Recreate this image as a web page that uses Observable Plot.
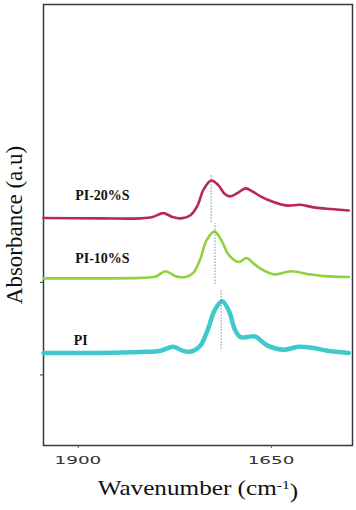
<!DOCTYPE html>
<html><head><meta charset="utf-8">
<script src="https://cdn.jsdelivr.net/npm/d3@7"></script>
<script src="https://cdn.jsdelivr.net/npm/@observablehq/plot@0.6"></script>
<style>html,body{margin:0;padding:0;background:#fff}#chart svg{display:block}</style>
</head><body><div id="chart"></div>
<script>
// ---- data (wavenumber cm-1, absorbance a.u. with vertical offsets) ----
const wnPI20  = [1945,1871.2,1819.4,1803.9,1790.1,1778,1767.7,1754.7,1745.6,1737.9,1727.9,1718.5,1710.7,1703.8,1695.2,1683.5,1674.4,1664.1,1647.3,1629.5,1612.3,1595.5,1577.7,1549.8];
const absPI20 = [5.16,5.15,5.15,5.18,5.27,5.18,5.15,5.22,5.44,5.80,6.01,5.90,5.71,5.65,5.71,5.83,5.76,5.65,5.52,5.44,5.46,5.40,5.37,5.33];

const wnPI10  = [1945,1871.2,1819.4,1800,1787.1,1774.1,1761.2,1750.8,1741.8,1734,1723.6,1714.6,1705.5,1692.2,1682.2,1673.2,1664.1,1646.9,1625.3,1603.6,1582.2,1549.8];
const absPI10 = [3.79,3.79,3.80,3.83,3.95,3.84,3.82,3.92,4.24,4.65,4.85,4.65,4.33,4.16,4.25,4.13,4.01,3.88,3.95,3.89,3.84,3.82];

const wnPI    = [1945,1871.2,1819.4,1793.5,1777.1,1765.1,1754.7,1741.8,1732.7,1723.6,1713.7,1704.2,1697.8,1690,1680.9,1670.6,1655.4,1633.9,1614.9,1595.1,1577.7,1549.8];
const absPI   = [2.10,2.10,2.12,2.15,2.24,2.15,2.13,2.27,2.61,3.06,3.27,3.02,2.65,2.46,2.46,2.47,2.27,2.17,2.24,2.21,2.15,2.10];

const labelNames = ["PI-20%S","PI-10%S","PI"];
const labelWn    = [1904,1904,1906];
const labelAbs   = [5.67,4.24,2.38];

const peakWn     = [1728,1723,1715];
const peakTop    = [6.15,5.03,3.51];
const peakBottom = [5.06,3.65,2.18];

const xTicks = [1900,1650];
const yTicks = [1.6,3.7];
const xTitle = "Wavenumber (cm-1)";
const yTitle = "Absorbance (a.u)";

// ---- build tables ----
const rows = (wn, ab) => wn.map((w,i) => ({wn:w, a:ab[i]}));
const pi20 = rows(wnPI20, absPI20);
const pi10 = rows(wnPI10, absPI10);
const pi   = rows(wnPI, absPI);
const labels = labelNames.map((t,i)=>({t, wn:labelWn[i], a:labelAbs[i]}));
const peaks = peakWn.map((w,i)=>({wn:w, y1:peakBottom[i], y2:peakTop[i]}));

const serif = "'Liberation Serif','Times New Roman',serif";

const chart = Plot.plot({
  width: 356, height: 510,
  marginLeft: 43, marginRight: 4, marginTop: 4, marginBottom: 65,
  x: {domain: [1945, 1545]},
  y: {domain: [0, 10]},
  marks: [
    Plot.frame({stroke: "#2f3b48", strokeWidth: 1.5}),
    Plot.axisX({ticks: xTicks, tickSize: 3, tickPadding: 8, tickFormat: d => String(d), label: null, stroke: "#555", fill: "#333", fontFamily: "'DejaVu Sans',Verdana,sans-serif", fontSize: 10.5}),
    Plot.axisY({ticks: yTicks, tickSize: 3, tickFormat: () => "", label: null, stroke: "#2f3b48"}),
    Plot.line(pi20, {x: "wn", y: "a", stroke: "#b7295a", strokeWidth: 2.6, curve: "catmull-rom"}),
    Plot.line(pi10, {x: "wn", y: "a", stroke: "#8fd23d", strokeWidth: 2.6, curve: "catmull-rom"}),
    Plot.line(pi,   {x: "wn", y: "a", stroke: "#40c9cc", strokeWidth: 4.5, curve: "catmull-rom"}),
    Plot.ruleX(peaks, {x: "wn", y1: "y1", y2: "y2", stroke: "#6f82b0", strokeWidth: 1.1, strokeDasharray: "1.5,1.5", strokeOpacity: 0.85}),
    Plot.text(labels, {x: "wn", y: "a", text: "t", textAnchor: "start", fontFamily: serif, fontWeight: "bold", fontSize: 14, fill: "#111"}),
    Plot.text([xTitle], {frameAnchor: "bottom", textAnchor: "middle", dy: 49, fontFamily: serif, fontSize: 21, fill: "#111"}),
    Plot.text([yTitle], {frameAnchor: "left", textAnchor: "middle", rotate: -90, dx: -28.5, fontFamily: serif, fontSize: 23, fill: "#111"})
  ]
});
document.getElementById("chart").appendChild(chart);

const svg = d3.select(chart);
const svgRect = chart.getBoundingClientRect();

// superscript -1 in the x title
svg.selectAll("text").filter(function(){ return this.textContent === xTitle; }).each(function(){
  const el = d3.select(this);
  el.text(null);
  el.append("tspan").text("Wavenumber (cm");
  el.append("tspan").attr("dy", "-0.45em").attr("font-size", 13).text("-1");
  el.append("tspan").attr("dy", "0.45em").text(")");
});

// horizontal stretch (the source figure is widened), about each text's centre
function stretch(node, sx) {
  const r = node.getBoundingClientRect();
  const cx = r.left + r.width / 2 - svgRect.left;
  const t = node.getAttribute("transform") || "";
  node.setAttribute("transform", `translate(${cx},0) scale(${sx},1) translate(${-cx},0) ${t}`);
}
svg.selectAll("text").filter(function(){ return xTicks.map(String).includes(this.textContent.trim()); }).each(function(){ stretch(this, 1.75); });
svg.selectAll("text").filter(function(){ return this.textContent === "Wavenumber (cm-1)"; }).each(function(){ stretch(this, 1.2); });
</script>
</body></html>
